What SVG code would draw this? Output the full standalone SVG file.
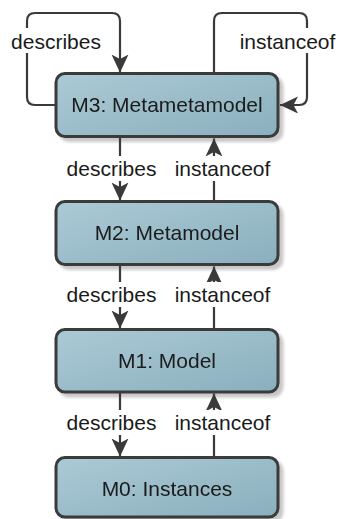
<svg xmlns="http://www.w3.org/2000/svg" width="340" height="519" viewBox="0 0 340 519">
  <defs>
    <linearGradient id="fillG" x1="0" y1="0" x2="1" y2="1">
      <stop offset="0" stop-color="#abcad5"/>
      <stop offset="1" stop-color="#8aafbd"/>
    </linearGradient>
    <filter id="shadow" x="-10%" y="-20%" width="130%" height="150%">
      <feGaussianBlur in="SourceAlpha" stdDeviation="1.5"/>
      <feOffset dx="4" dy="4" result="b"/>
      <feComponentTransfer><feFuncA type="linear" slope="0.22"/></feComponentTransfer>
      <feMerge><feMergeNode/><feMergeNode in="SourceGraphic"/></feMerge>
    </filter>
    <marker id="arr" markerUnits="userSpaceOnUse" markerWidth="20" markerHeight="20" viewBox="-18 -10 20 20" refX="0" refY="0" orient="auto">
      <path d="M0,0 L-18,-8.5 L-13.5,0 L-18,8.5 Z" fill="#3a3a3a"/>
    </marker>
  </defs>
  <style>
    .box { fill: url(#fillG); stroke: #3a3a3a; stroke-width: 3; }
    .nt { font-family: "Liberation Sans", Arial, sans-serif; font-size: 21px; fill: #1a1a1a; text-anchor: middle; }
    .edge { fill: none; stroke: #3a3a3a; stroke-width: 2.2; }
    .arrow { marker-end: url(#arr); }
    .lbg { fill: #ffffff; }
    .lt { font-family: "Liberation Sans", Arial, sans-serif; font-size: 21px; fill: #1a1a1a; text-anchor: middle; }
  </style>

  <g id="node-m3" filter="url(#shadow)">
    <rect class="box" x="56" y="73.5" width="222" height="63" rx="9"/>
    <text class="nt" x="167" y="112">M3: Metametamodel</text>
  </g>
  <g id="node-m2" filter="url(#shadow)">
    <rect class="box" x="56" y="201.5" width="222" height="63" rx="9"/>
    <text class="nt" x="167" y="240">M2: Metamodel</text>
  </g>
  <g id="node-m1" filter="url(#shadow)">
    <rect class="box" x="56" y="329.5" width="222" height="62.5" rx="9"/>
    <text class="nt" x="167" y="368">M1: Model</text>
  </g>
  <g id="node-m0" filter="url(#shadow)">
    <rect class="box" x="56" y="457.5" width="222" height="59.5" rx="9"/>
    <text class="nt" x="167" y="496">M0: Instances</text>
  </g>

  <g id="connectors">
    <!-- M3 describes itself -->
    <path class="edge arrow" d="M56,105 H35 Q27,105 27,97 V21 Q27,13 35,13 H112 Q120,13 120,21 V72.5"/>
    <!-- M3 instanceof itself -->
    <path class="edge arrow" d="M214,73.5 V21 Q214,13 222,13 H299 Q307,13 307,21 V97 Q307,105 299,105 H280"/>
    <!-- describes downward -->
    <path class="edge arrow" d="M120,137 V200.5"/>
    <path class="edge arrow" d="M120,265 V328.5"/>
    <path class="edge arrow" d="M120,392 V456.5"/>
    <!-- instanceof upward -->
    <path class="edge arrow" d="M214,201.5 V138.5"/>
    <path class="edge arrow" d="M214,329.5 V266.5"/>
    <path class="edge arrow" d="M214,457.5 V393.5"/>

    <g id="labels">
      <rect class="lbg" x="10" y="28" width="92" height="25"/>
      <text class="lt" x="56" y="48.5">describes</text>
      <rect class="lbg" x="240" y="28" width="95" height="25"/>
      <text class="lt" x="287.5" y="48.5">instanceof</text>

      <rect class="lbg" x="65" y="156" width="93" height="25"/>
      <text class="lt" x="111.5" y="176">describes</text>
      <rect class="lbg" x="174" y="156" width="97" height="25"/>
      <text class="lt" x="222.5" y="176">instanceof</text>

      <rect class="lbg" x="65" y="282" width="93" height="25"/>
      <text class="lt" x="111.5" y="302">describes</text>
      <rect class="lbg" x="174" y="282" width="97" height="25"/>
      <text class="lt" x="222.5" y="302">instanceof</text>

      <rect class="lbg" x="65" y="410" width="93" height="25"/>
      <text class="lt" x="111.5" y="430">describes</text>
      <rect class="lbg" x="174" y="410" width="97" height="25"/>
      <text class="lt" x="222.5" y="430">instanceof</text>
    </g>
  </g>
</svg>
